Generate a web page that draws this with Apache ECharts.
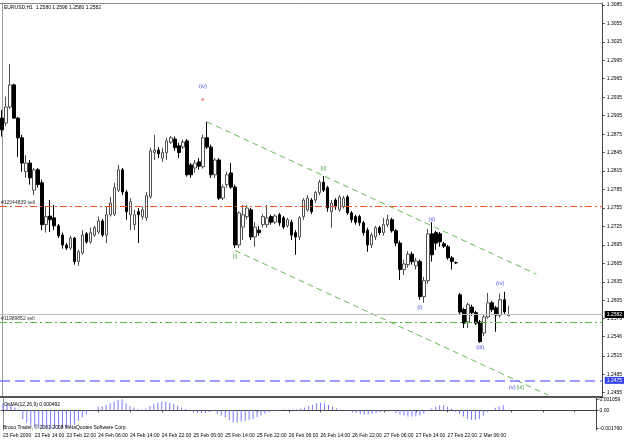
<!DOCTYPE html>
<html>
<head>
<meta charset="utf-8">
<title>EURUSD H1</title>
<script src="https://cdn.jsdelivr.net/npm/echarts@6/dist/echarts.min.js"></script>
<style>
  html, body { margin: 0; padding: 0; background: #fff; }
  #chart { width: 625px; height: 441px; }
</style>
</head>
<body>
<div id="chart"></div>
<script>
// EURUSD H1, 23 Feb 2009 06:00 .. 2 Mar 2009 12:00 (one entry per hourly bar)
const openP = [1.2901,1.2893,1.2919,1.2955,1.2901,1.2869,1.2814,1.2828,1.2784,1.2817,
  1.2796,1.2728,1.2742,1.2739,1.2726,1.2711,1.2695,1.2690,1.2706,1.2668,
  1.2682,1.2713,1.2700,1.2711,1.2716,1.2734,1.2711,1.2744,1.2745,1.2784,
  1.2817,1.2781,1.2744,1.2728,1.2749,1.2741,1.2739,1.2773,1.2845,1.2849,
  1.2836,1.2845,1.2862,1.2867,1.2856,1.2854,1.2864,1.2825,1.2820,1.2830,
  1.2822,1.2869,1.2854,1.2809,1.2833,1.2771,1.2793,1.2812,1.2789,1.2695,
  1.2724,1.2741,1.2752,1.2708,1.2719,1.2728,1.2728,1.2741,1.2732,1.2744,
  1.2739,1.2726,1.2732,1.2715,1.2708,1.2741,1.2752,1.2768,1.2768,1.2780,
  1.2797,1.2788,1.2749,1.2768,1.2752,1.2757,1.2773,1.2747,1.2741,1.2741,
  1.2731,1.2719,1.2695,1.2708,1.2723,1.2715,1.2728,1.2736,1.2718,1.2698,
  1.2655,1.2663,1.2680,1.2661,1.2668,1.2611,1.2637,1.2713,1.2715,1.2713,
  1.2697,1.2692,1.2674,1.2666,1.2614,1.2590,1.2570,1.2594,1.2585,1.2570,
  1.2552,1.2578,1.2601,1.2593,1.2581,1.2606,1.2580];
const highP = [1.2914,1.2936,1.2989,1.2957,1.2903,1.2874,1.2841,1.2833,1.2820,1.2820,
  1.2801,1.2757,1.2768,1.2760,1.2729,1.2715,1.2698,1.2710,1.2708,1.2687,
  1.2719,1.2716,1.2723,1.2726,1.2741,1.2737,1.2757,1.2773,1.2796,1.2825,
  1.2820,1.2784,1.2771,1.2752,1.2755,1.2757,1.2781,1.2853,1.2874,1.2854,
  1.2853,1.2869,1.2872,1.2871,1.2861,1.2866,1.2867,1.2828,1.2833,1.2836,
  1.2874,1.2895,1.2858,1.2836,1.2836,1.2793,1.2814,1.2828,1.2793,1.2750,
  1.2760,1.2760,1.2755,1.2732,1.2726,1.2745,1.2760,1.2744,1.2745,1.2747,
  1.2742,1.2739,1.2736,1.2719,1.2742,1.2771,1.2776,1.2771,1.2783,1.2801,
  1.2807,1.2791,1.2768,1.2771,1.2776,1.2775,1.2776,1.2750,1.2744,1.2744,
  1.2734,1.2723,1.2715,1.2726,1.2726,1.2739,1.2744,1.2739,1.2721,1.2702,
  1.2671,1.2685,1.2684,1.2674,1.2671,1.2643,1.2721,1.2732,1.2718,1.2716,
  1.2700,1.2695,1.2677,1.2668,1.2617,1.2593,1.2601,1.2598,1.2588,1.2573,
  1.2581,1.2617,1.2604,1.2596,1.2616,1.2619,1.2596];
const lowP = [1.2871,1.2888,1.2916,1.2900,1.2838,1.2814,1.2804,1.2793,1.2776,1.2788,
  1.2719,1.2715,1.2716,1.2719,1.2706,1.2689,1.2687,1.2687,1.2663,1.2661,
  1.2679,1.2697,1.2697,1.2708,1.2713,1.2708,1.2698,1.2741,1.2742,1.2781,
  1.2776,1.2736,1.2719,1.2719,1.2698,1.2736,1.2734,1.2770,1.2833,1.2836,
  1.2830,1.2833,1.2859,1.2848,1.2836,1.2851,1.2806,1.2804,1.2812,1.2817,
  1.2819,1.2851,1.2804,1.2804,1.2768,1.2768,1.2788,1.2786,1.2690,1.2690,
  1.2703,1.2736,1.2703,1.2692,1.2710,1.2723,1.2723,1.2728,1.2729,1.2726,
  1.2721,1.2723,1.2703,1.2679,1.2703,1.2736,1.2749,1.2745,1.2763,1.2776,
  1.2781,1.2749,1.2723,1.2752,1.2749,1.2754,1.2744,1.2731,1.2728,1.2726,
  1.2710,1.2684,1.2690,1.2703,1.2711,1.2710,1.2724,1.2715,1.2693,1.2638,
  1.2646,1.2658,1.2663,1.2655,1.2606,1.2601,1.2632,1.2668,1.2687,1.2692,
  1.2690,1.2671,1.2655,1.2664,1.2583,1.2560,1.2560,1.2580,1.2565,1.2536,
  1.2547,1.2575,1.2586,1.2554,1.2577,1.2583,1.2580];
const closeP = [1.2882,1.2919,1.2955,1.2901,1.2869,1.2828,1.2828,1.2804,1.2817,1.2793,
  1.2728,1.2741,1.2736,1.2726,1.2710,1.2695,1.2690,1.2706,1.2668,1.2684,
  1.2711,1.2700,1.2715,1.2723,1.2734,1.2711,1.2744,1.2763,1.2788,1.2817,
  1.2781,1.2749,1.2765,1.2744,1.2744,1.2752,1.2775,1.2848,1.2849,1.2843,
  1.2845,1.2864,1.2869,1.2853,1.2845,1.2862,1.2809,1.2809,1.2828,1.2823,
  1.2869,1.2854,1.2809,1.2833,1.2771,1.2789,1.2809,1.2789,1.2695,1.2747,
  1.2744,1.2755,1.2708,1.2724,1.2715,1.2741,1.2739,1.2732,1.2742,1.2731,
  1.2724,1.2736,1.2711,1.2708,1.2739,1.2768,1.2771,1.2749,1.2780,1.2797,
  1.2784,1.2755,1.2763,1.2757,1.2773,1.2771,1.2747,1.2736,1.2732,1.2731,
  1.2715,1.2695,1.2711,1.2723,1.2715,1.2728,1.2736,1.2718,1.2698,1.2655,
  1.2664,1.2680,1.2668,1.2669,1.2611,1.2637,1.2713,1.2679,1.2698,1.2700,
  1.2693,1.2674,1.2668,1.2666,1.2586,1.2568,1.2598,1.2585,1.2568,1.2538,
  1.2578,1.2601,1.2590,1.2581,1.2606,1.2586,1.2582];

// OsMA(12,26,9) histogram, one value per bar
const osma = [0.00067,0.00067,0.00050,0.00027,0.00007,-0.00083,-0.00117,-0.00150,-0.00165,-0.00170,
  -0.00175,-0.00176,-0.00175,-0.00174,-0.00172,-0.00170,-0.00167,-0.00162,-0.00140,-0.00100,
  -0.00067,-0.00040,-0.00013,0.00002,0.00033,0.00040,0.00050,0.00067,0.00083,0.00100,
  0.00106,0.00067,0.00040,0.00027,0.00013,0.00007,0.00017,0.00040,0.00060,0.00073,
  0.00083,0.00083,0.00073,0.00060,0.00043,0.00027,0.00013,0.00001,-0.00017,-0.00027,
  -0.00027,-0.00027,-0.00017,-0.00007,-0.00033,-0.00050,-0.00067,-0.00093,-0.00117,-0.00117,
  -0.00107,-0.00100,-0.00093,-0.00083,-0.00067,-0.00050,-0.00033,-0.00017,-0.00010,-0.00007,
  0.00001,0.00007,0.00007,0.00007,0.00010,0.00017,0.00027,0.00040,0.00050,0.00067,
  0.00073,0.00067,0.00050,0.00033,0.00017,0.00007,-0.00001,-0.00010,-0.00017,-0.00023,
  -0.00033,-0.00043,-0.00043,-0.00033,-0.00027,-0.00017,-0.00007,-0.00001,-0.00010,-0.00027,
  -0.00043,-0.00050,-0.00060,-0.00060,-0.00060,-0.00050,-0.00033,-0.00010,0.00017,0.00033,
  0.00047,0.00047,0.00033,0.00017,-0.00017,-0.00033,-0.00060,-0.00083,-0.00093,-0.00093,
  -0.00083,-0.00050,-0.00017,0.00001,0.00025,0.00038,0.000492];

// axis ticks
const xTickLabels = ['23 Feb 2009', '23 Feb 14:00', '23 Feb 22:00', '24 Feb 06:00', '24 Feb 14:00',
  '24 Feb 22:00', '25 Feb 06:00', '25 Feb 14:00', '25 Feb 22:00', '26 Feb 06:00', '26 Feb 14:00',
  '26 Feb 22:00', '27 Feb 06:00', '27 Feb 14:00', '27 Feb 22:00', '2 Mar 06:00'];
const barsPerLabel = 8;
const totalSlots = 150;   // visible slots incl. empty shift on the right
const priceTicks = [1.3085, 1.3055, 1.3025, 1.2995, 1.2965, 1.2935, 1.2905, 1.2875, 1.2845,
  1.2815, 1.2785, 1.2755, 1.2725, 1.2695, 1.2665, 1.2635, 1.2605, 1.2576, 1.2546, 1.2515,
  1.2485, 1.2455];
const osmaTicks = [0.001059, 0, -0.00176];

// horizontal levels
const sellOrderA = 1.2758;
const sellOrderB = 1.2570;
const bidPrice = 1.2582;
const targetLevel = 1.2475;

// channel lines: [bar index, price]
const channelUpper = [[51, 1.2895], [133, 1.26475]];
const channelLower = [[58, 1.2686], [136, 1.2451]];

// wave count labels
const waveText = ['(iv)', 'e', '[i]', '[ii]', '(i)', '(ii)', '(iii)', '(iv)', '(v)', '[iii]'];
const waveBar = [50, 50, 58, 80, 104, 107, 119, 124, 127, 129];
const wavePrice = [1.2952, 1.2932, 1.2676, 1.2820, 1.2594, 1.2737, 1.2528, 1.2632, 1.2463, 1.2463];
const waveColor = ['#2222ee', '#cc0000', '#339933', '#339933', '#2222ee', '#2222ee', '#2222ee', '#2222ee', '#2222ee', '#339933'];

const categories = [];
for (let i = 0; i < totalSlots; i++) categories.push(String(i));

const candles = openP.map((o, i) => [o, closeP[i], lowP[i], highP[i]]);
const waves = waveText.map((t, i) => ({
    name: t,
    value: [waveBar[i], wavePrice[i]],
    label: { color: waveColor[i] }
}));

const FONT = 'Liberation Sans';
const small = { fontSize: 5, fontFamily: FONT, color: '#000' };

const chart = echarts.init(document.getElementById('chart'));

chart.setOption({
    animation: false,
    backgroundColor: '#fff',
    title: [
        { text: 'EURUSD,H1  1.2580 1.2596 1.2580 1.2582', left: 4, top: 5, padding: 0,
          textStyle: Object.assign({ fontWeight: 'normal' }, small) },
        { text: 'OsMA(12,26,9) 0.000492', left: 4, top: 402, padding: 0,
          textStyle: Object.assign({ fontWeight: 'normal' }, small) },
        { text: 'Broco Trader, © 2001-2008 MetaQuotes Software Corp.', left: 3, top: 425, padding: 0,
          textStyle: Object.assign({ fontWeight: 'normal' }, small) }
    ],
    grid: [
        { left: 0, right: 19, top: 3, height: 394 },
        { left: 0, right: 19, top: 398, height: 32 }
    ],
    xAxis: [
        {
            type: 'category', gridIndex: 0, data: categories, boundaryGap: true,
            axisLine: { lineStyle: { color: '#555', width: 2 } },
            axisTick: { show: false }, axisLabel: { show: false }
        },
        {
            type: 'category', gridIndex: 0, data: categories, position: 'top',
            axisLine: { lineStyle: { color: '#888' } },
            axisTick: { show: false }, axisLabel: { show: false }
        },
        {
            type: 'category', gridIndex: 1, data: categories, boundaryGap: true,
            axisLine: { lineStyle: { color: '#444' } },
            axisTick: { show: true, interval: barsPerLabel - 1, alignWithLabel: true, length: 2,
                        lineStyle: { color: '#444' } },
            axisLabel: {
                interval: barsPerLabel - 1, align: 'left', margin: 3,
                fontSize: 5, fontFamily: FONT, color: '#000',
                formatter: (v, idx) => xTickLabels[idx / barsPerLabel] || ''
            }
        }
    ],
    yAxis: [
        {
            type: 'value', gridIndex: 0, position: 'right', scale: true,
            min: 1.2448, max: 1.3088,
            axisLine: { show: true, lineStyle: { color: '#444' } },
            axisTick: { show: true, length: 2, customValues: priceTicks, lineStyle: { color: '#444' } },
            axisLabel: { customValues: priceTicks, margin: 4, fontSize: 5, fontFamily: FONT, color: '#000',
                         formatter: v => v.toFixed(4) },
            splitLine: { show: false }
        },
        {
            type: 'value', gridIndex: 0, position: 'left', offset: -2, min: 1.2448, max: 1.3088,
            axisLine: { show: true, lineStyle: { color: '#999' } },
            axisTick: { show: false }, axisLabel: { show: false }, splitLine: { show: false }
        },
        {
            type: 'value', gridIndex: 1, position: 'right', min: -0.0019, max: 0.00118,
            axisLine: { show: true, lineStyle: { color: '#444' } },
            axisTick: { show: true, length: 2, customValues: osmaTicks, lineStyle: { color: '#444' } },
            axisLabel: { customValues: osmaTicks, margin: 3, fontSize: 5, fontFamily: FONT, color: '#000',
                         formatter: v => (v === 0 ? '0.00' : v.toFixed(6)) },
            splitLine: { show: false }
        },
        {
            type: 'value', gridIndex: 1, position: 'left', offset: -2, min: -0.0019, max: 0.00118,
            axisLine: { show: true, lineStyle: { color: '#999' } },
            axisTick: { show: false }, axisLabel: { show: false }, splitLine: { show: false }
        }
    ],
    series: [
        {
            type: 'candlestick', name: 'EURUSD', xAxisIndex: 0, yAxisIndex: 0,
            data: candles, barWidth: 3,
            itemStyle: { color: '#ffffff', borderColor: '#505050', color0: '#000000', borderColor0: '#000000', borderWidth: 1 },
            markLine: {
                silent: true, symbol: 'none', precision: 4,
                label: { fontSize: 5, fontFamily: FONT },
                data: [
                    { yAxis: sellOrderA, lineStyle: { color: '#ee5522', type: [7, 3, 2, 3], width: 1 },
                      label: { show: true, position: 'insideStartTop', formatter: '#12044839 sell', color: '#333', distance: 1 } },
                    { yAxis: sellOrderB, lineStyle: { color: '#55bb44', type: [7, 3, 2, 3], width: 1 },
                      label: { show: true, position: 'insideStartTop', formatter: '#11989852 sell', color: '#333', distance: 1 } },
                    { yAxis: bidPrice, lineStyle: { color: '#c0c0c0', type: 'solid', width: 1 },
                      label: { show: true, position: 'end', formatter: bidPrice.toFixed(4), color: '#fff',
                               backgroundColor: '#000', padding: [1, 2], distance: 2 } },
                    { yAxis: targetLevel, lineStyle: { color: '#7b7bff', type: [10, 5], width: 1.5 },
                      label: { show: true, position: 'end', formatter: targetLevel.toFixed(4), color: '#fff',
                               backgroundColor: '#3344ee', padding: [1, 2], distance: 2 } }
                ]
            }
        },
        {
            type: 'line', name: 'channel upper', xAxisIndex: 0, yAxisIndex: 0,
            data: channelUpper, symbol: 'none', silent: true,
            lineStyle: { color: '#66bb55', type: [6, 4], width: 1 }
        },
        {
            type: 'line', name: 'channel lower', xAxisIndex: 0, yAxisIndex: 0,
            data: channelLower, symbol: 'none', silent: true,
            lineStyle: { color: '#66bb55', type: [6, 4], width: 1 }
        },
        {
            type: 'scatter', name: 'waves', xAxisIndex: 0, yAxisIndex: 0,
            data: waves, symbolSize: 0, silent: true,
            label: { show: true, position: 'inside', formatter: p => p.name, fontSize: 6, fontFamily: FONT }
        },
        {
            type: 'bar', name: 'OsMA', xAxisIndex: 2, yAxisIndex: 2,
            data: osma, barWidth: 1,
            itemStyle: { color: '#7878ff' }
        }
    ]
});
</script>
</body>
</html>
